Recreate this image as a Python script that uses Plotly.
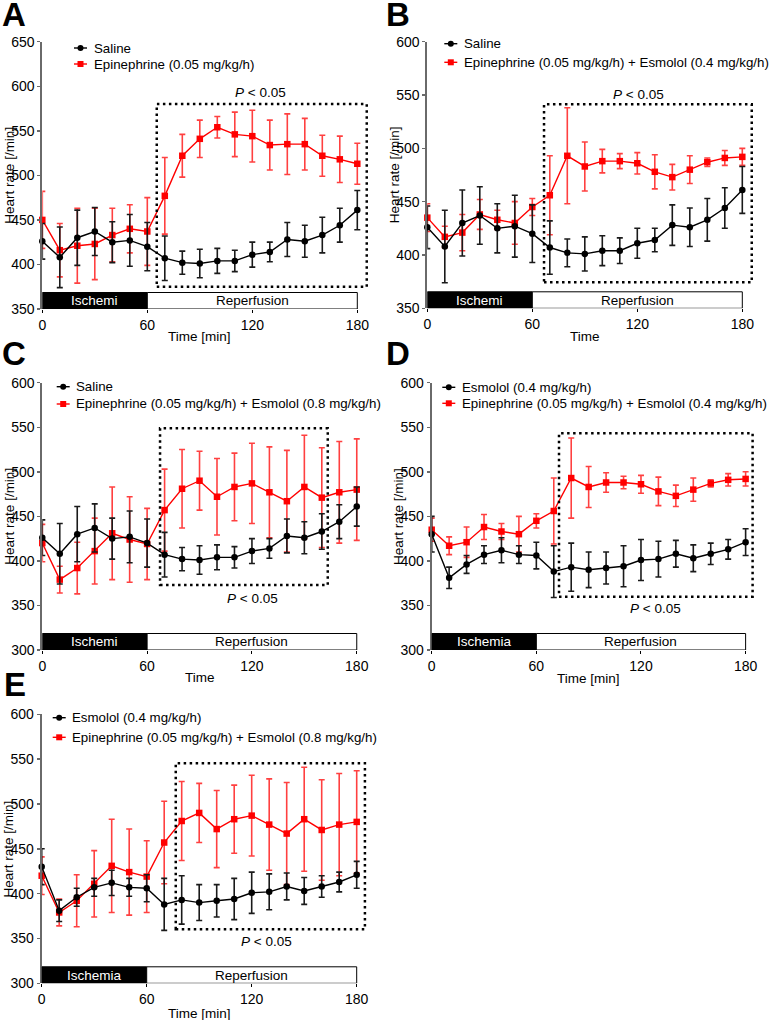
import plotly.graph_objects as go

TIME = [0, 10, 20, 30, 40, 50, 60, 70, 80, 90, 100, 110, 120, 130, 140, 150, 160, 170, 180]

SALINE_MEAN = [426, 408, 430, 437, 425, 427, 420, 407, 402, 401, 404, 404, 411, 414, 428, 426, 433, 444, 461]
SALINE_SEM = [20, 34, 31, 27, 23, 29, 27, 25, 13, 16, 14, 12, 14, 11, 19, 18, 20, 19, 22]

EPI_MEAN = [450, 416, 421, 423, 433, 440, 437, 477, 522, 541, 554, 546, 544, 534, 535, 535, 522, 518, 513]
EPI_SEM = [32, 30, 42, 40, 30, 27, 38, 43, 24, 21, 12, 25, 29, 28, 34, 29, 23, 26, 23]

EPI_ES04_MEAN = [435, 417, 421, 438, 433, 430, 445, 456, 493, 483, 488, 488, 486, 478, 473, 480, 487, 491, 492]
EPI_ES04_SEM = [13, 10, 17, 14, 9, 20, 8, 37, 45, 23, 11, 7, 10, 16, 12, 13, 4, 7, 8]

EPI_ES08_MEAN = [420, 379, 392, 411, 431, 424, 419, 457, 481, 490, 472, 483, 487, 477, 467, 483, 471, 477, 480]
EPI_ES08_SEM = [21, 15, 29, 37, 52, 48, 40, 46, 44, 33, 43, 38, 45, 51, 57, 58, 56, 57, 57]

ES04_MEAN = [430, 381, 396, 407, 412, 407, 406, 388, 393, 390, 392, 394, 401, 402, 408, 403, 408, 413, 421]
ES04_SEM = [20, 12, 10, 10, 14, 10, 15, 29, 27, 20, 18, 23, 23, 20, 15, 15, 12, 11, 15]

X_TICKS = [0, 60, 120, 180]

W, H = 771, 1020
FONT = "Liberation Sans, Arial, sans-serif"
RED = "#ff0000"
RED_ERR = "rgba(255,30,30,0.85)"
BLACK = "#000000"
AXIS_GREY = "#6a6a6a"

PANELS = [
    dict(letter="A", lx=0, ly=1, x0=42.3, ppm=1.75, ytop=41.7, ybot=309, yr=(350, 650),
         black=("Saline", SALINE_MEAN, SALINE_SEM),
         red=("Epinephrine (0.05 mg/kg/h)", EPI_MEAN, EPI_SEM),
         leg=(74, 92, 48, 64), isch="Ischemi", xtitle="Time [min]", xt_y=337,
         box=(65.4, 185.4, 375, 580), ptxt=(260, 92)),
    dict(letter="B", lx=384, ly=1, x0=427.3, ppm=1.75, ytop=41.7, ybot=308.3, yr=(350, 600),
         black=("Saline", SALINE_MEAN, SALINE_SEM),
         red=("Epinephrine (0.05 mg/kg/h) + Esmolol (0.4 mg/kg/h)", EPI_ES04_MEAN, EPI_ES04_SEM),
         leg=(444.3, 462.3, 43.7, 62.3), isch="Ischemi", xtitle="Time", xt_y=337,
         box=(66.7, 185.4, 374.4, 541.3), ptxt=(638, 94)),
    dict(letter="C", lx=0, ly=340, x0=42.3, ppm=1.747, ytop=382.7, ybot=650, yr=(300, 600),
         black=("Saline", SALINE_MEAN, SALINE_SEM),
         red=("Epinephrine (0.05 mg/kg/h) + Esmolol (0.8 mg/kg/h)", EPI_ES08_MEAN, EPI_ES08_SEM),
         leg=(56.7, 74, 386.7, 404), isch="Ischemi", xtitle="Time", xt_y=677,
         box=(67.4, 163.4, 373, 548.8), ptxt=(252, 598)),
    dict(letter="D", lx=384, ly=340, x0=431.7, ppm=1.744, ytop=382.7, ybot=650, yr=(300, 600),
         black=("Esmolol (0.4 mg/kg/h)", ES04_MEAN, ES04_SEM),
         red=("Epinephrine (0.05 mg/kg/h) + Esmolol (0.4 mg/kg/h)", EPI_ES04_MEAN, EPI_ES04_SEM),
         leg=(442.3, 459.7, 387.3, 403.3), isch="Ischemia", xtitle="Time [min]", xt_y=678,
         box=(73, 184, 359.8, 543.2), ptxt=(655, 608)),
    dict(letter="E", lx=2, ly=671, x0=41.7, ppm=1.75, ytop=714.3, ybot=983.3, yr=(300, 600),
         black=("Esmolol (0.4 mg/kg/h)", ES04_MEAN, ES04_SEM),
         red=("Epinephrine (0.05 mg/kg/h) + Esmolol (0.8 mg/kg/h)", EPI_ES08_MEAN, EPI_ES08_SEM),
         leg=(52.7, 70, 717.7, 737.3), isch="Ischemia", xtitle="Time [min]", xt_y=1013,
         box=(76.6, 184.7, 360.2, 545.4), ptxt=(266, 941)),
]


def px(x):
    return x / W


def py(y):
    return 1 - y / H


fig = go.Figure()
shapes = []
annotations = []
layout_axes = {}

for i, p in enumerate(PANELS):
    n = i + 1
    xa = "x" if n == 1 else f"x{n}"
    ya = "y" if n == 1 else f"y{n}"
    xkey = "xaxis" if n == 1 else f"xaxis{n}"
    ykey = "yaxis" if n == 1 else f"yaxis{n}"
    xmax = 190
    x1px = p["x0"] + xmax * p["ppm"]
    ymin, ymax = p["yr"]
    ppu = (p["ybot"] - p["ytop"]) / (ymax - ymin)

    layout_axes[xkey] = dict(
        domain=[px(p["x0"]), px(x1px)], range=[0, xmax], anchor=ya, automargin=False,
        tickvals=X_TICKS, ticktext=[str(v) for v in X_TICKS],
        ticks="outside", ticklen=3, tickcolor=BLACK, tickwidth=1,
        showline=False, showgrid=False, zeroline=False,
        tickfont=dict(family=FONT, size=14, color=BLACK),
    )
    layout_axes[ykey] = dict(
        domain=[py(p["ybot"]), py(p["ytop"])], range=[ymin, ymax], anchor=xa, automargin=False,
        dtick=50, tick0=0, ticks="outside", ticklen=3, tickcolor=AXIS_GREY, tickwidth=1.5,
        showline=True, linecolor=AXIS_GREY, linewidth=2,
        showgrid=False, zeroline=False,
        tickfont=dict(family=FONT, size=14, color=BLACK),
    )

    # series
    for (name, mean, sem), col, ecol, sym in [
        (p["red"], RED, RED_ERR, "square"),
        (p["black"], BLACK, "#1a1a1a", "circle"),
    ]:
        fig.add_trace(go.Scatter(
            x=TIME, y=mean, mode="lines+markers", name=name, showlegend=False,
            xaxis=xa, yaxis=ya, cliponaxis=False,
            line=dict(color=col, width=1.4),
            marker=dict(symbol=sym, size=6.5, color=col),
            error_y=dict(type="data", array=sem, visible=True, color=ecol,
                         thickness=1.6, width=3),
        ))

    # ischemia / reperfusion bar
    bar_h = 16.5 / ppu
    shapes.append(dict(type="rect", xref=xa, yref=ya, x0=0, x1=60, y0=ymin, y1=ymin + bar_h,
                       fillcolor=BLACK, line=dict(color=BLACK, width=1), layer="above"))
    shapes.append(dict(type="rect", xref=xa, yref=ya, x0=60, x1=180, y0=ymin, y1=ymin + bar_h,
                       fillcolor="white", line=dict(color=BLACK, width=1), layer="above"))
    annotations.append(dict(x=30, y=ymin + bar_h / 2, xref=xa, yref=ya, text=p["isch"],
                            showarrow=False, font=dict(family=FONT, size=13.5, color="white"),
                            xanchor="center", yanchor="middle"))
    annotations.append(dict(x=120, y=ymin + bar_h / 2, xref=xa, yref=ya, text="Reperfusion",
                            showarrow=False, font=dict(family=FONT, size=13.5, color=BLACK),
                            xanchor="center", yanchor="middle"))

    # dotted significance box
    bx0, bx1, by0, by1 = p["box"]
    shapes.append(dict(type="rect", xref=xa, yref=ya, x0=bx0, x1=bx1, y0=by0, y1=by1,
                       line=dict(color=BLACK, width=2.5, dash="2.5px,3.5px"),
                       fillcolor="rgba(0,0,0,0)", layer="above"))
    annotations.append(dict(x=px(p["ptxt"][0]), y=py(p["ptxt"][1]), xref="paper", yref="paper",
                            text="<i>P</i> < 0.05", showarrow=False,
                            font=dict(family=FONT, size=13.5, color=BLACK),
                            xanchor="center", yanchor="middle"))

    # legend (manual)
    lx0, tx, ly1, ly2 = p["leg"]
    for (name, _, _), col, sym, ly in [(p["black"], BLACK, "circle", ly1),
                                        (p["red"], RED, "square", ly2)]:
        shapes.append(dict(type="line", xref="paper", yref="paper",
                           x0=px(lx0), x1=px(lx0 + 13), y0=py(ly), y1=py(ly),
                           line=dict(color=col, width=1.4)))
        cx = lx0 + 6.5
        shapes.append(dict(type="circle" if sym == "circle" else "rect",
                           xref="paper", yref="paper",
                           x0=px(cx - 3), x1=px(cx + 3), y0=py(ly + 3), y1=py(ly - 3),
                           fillcolor=col, line=dict(color=col, width=0)))
        annotations.append(dict(x=px(tx), y=py(ly), xref="paper", yref="paper", text=name,
                                showarrow=False, font=dict(family=FONT, size=13.3, color=BLACK),
                                xanchor="left", yanchor="middle"))

    # axis titles
    annotations.append(dict(x=px(p["x0"] + 90 * p["ppm"]), y=py(p["xt_y"]), xref="paper",
                            yref="paper", text=p["xtitle"], showarrow=False,
                            font=dict(family=FONT, size=13.5, color=BLACK),
                            xanchor="center", yanchor="middle"))
    annotations.append(dict(x=px(p["x0"] - 33), y=py((p["ytop"] + p["ybot"]) / 2), xref="paper",
                            yref="paper", text="Heart rate [/min]", showarrow=False, textangle=-90,
                            font=dict(family=FONT, size=13.5, color=BLACK),
                            xanchor="center", yanchor="middle"))

    # panel letter
    annotations.append(dict(x=px(p["lx"]), y=py(p["ly"]), xref="paper", yref="paper",
                            text=f"<b>{p['letter']}</b>", showarrow=False,
                            font=dict(family=FONT, size=33, color=BLACK),
                            xanchor="left", yanchor="top", yshift=7))

fig.update_layout(
    width=W, height=H, autosize=False,
    margin=dict(l=0, r=0, t=0, b=0, autoexpand=False),
    paper_bgcolor="white", plot_bgcolor="white",
    showlegend=False, hovermode=False,
    shapes=shapes, annotations=annotations,
    **layout_axes,
)

fig.write_html("out.html", config={"displayModeBar": False, "staticPlot": True},
               post_script="document.body.style.margin='0px';")
